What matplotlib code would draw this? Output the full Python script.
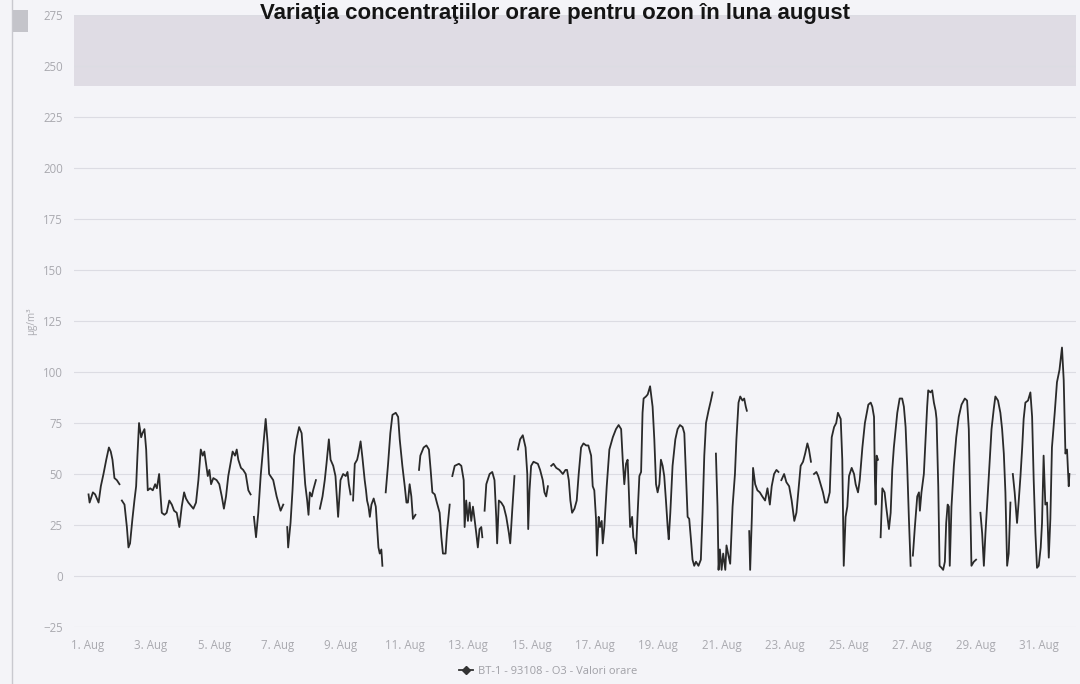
import numpy as np
import matplotlib.pyplot as plt
from matplotlib.lines import Line2D
from matplotlib.patches import Rectangle

title = "Variaţia concentraţiilor orare pentru ozon în luna august"
series_name = "BT-1 - 93108 - O3 - Valori orare"
unit = "µg/m³"
tick_days = list(range(1, 32, 2))
tick_labels = [f"{d}. Aug" for d in tick_days]
y_ticks = list(range(-25, 276, 25))
band_from, band_to = 240, 275

# hours since 1 Aug 00:00, None = missing values (line breaks)
hours = [1.0, 1.8, 4.3, 6.0, 8.6, 10.3, 12.3, 14.4, 16.4, 17.8, 19.1, 20.6, 22.4, 24.4,
         25.3,
         26.2, 28.2, 30.0, 31.2, 32.4, 34.2, 35.7, 37.0, 38.0, 39.2, 40.8, 41.8, 43.3, 44.6, 45.8,
         47.6, 49.6, 51.4, 52.7, 54.4, 55.4, 56.4, 58.4, 60.1, 62.1, 64.0, 65.7, 67.7, 69.7, 71.5,
         73.3, 74.7, 76.5, 80.3, 82.3, 84.1, 85.9, 87.4, 88.6, 89.9, 91.2, 92.4, 93.7, 95.4, 97.9,
         99.9, 101.8, 103.4, 105.0, 106.7, 108.6, 110.0, 111.8, 113.1, 114.3, 116.3, 118.0, 119.9,
         121.9, 123.6,
         125.0,
         126.1, 127.7, 129.4, 131.2, 132.7, 135.0, 136.5, 137.6, 140.7, 143.3, 146.3, 148.3,
         149.8,
         151.3, 152.0, 153.8, 155.3, 156.6, 158.3, 160.3, 162.2, 163.4, 164.9, 166.4, 167.4, 168.4,
         169.9, 170.9, 173.0,
         174.5,
         176.0, 178.0, 179.7, 181.0, 182.8, 184.1, 186.1, 187.8, 189.8, 191.6, 193.6, 195.6, 196.9,
         197.9, 199.2,
         200.1,
         201.1, 202.4, 204.2, 205.2, 206.8, 208.2, 209.9, 210.9, 211.7, 212.8, 213.8, 215.0, 216.7,
         218.3, 219.3, 220.3, 221.3, 222.5, 223.3,
         224.5,
         225.8, 227.6, 229.3, 230.9, 233.4, 235.2, 236.4, 238.4, 240.2, 241.5, 242.6, 243.9, 245.2,
         246.4, 248.3,
         249.6,
         251.0, 252.0, 254.5, 256.6, 258.5, 259.8, 261.1, 262.9, 264.5, 266.6, 267.9, 269.1, 271.1,
         272.1, 274.2,
         275.2,
         276.2, 278.0, 281.2, 283.0, 284.8, 285.5, 286.7, 288.0, 289.3, 290.5, 291.8, 293.0, 294.3,
         295.5, 296.8, 298.1, 298.9,
         299.8,
         300.6, 301.9, 304.4, 306.4, 308.1, 309.4, 310.1, 311.4, 313.2, 315.1, 317.0, 319.0, 320.0,
         321.5, 323.2,
         324.5,
         325.8, 327.5, 329.5, 331.6, 332.9, 333.6, 334.6, 335.8, 337.6, 340.9, 342.6, 344.6, 345.9,
         347.2, 348.5,
         349.8,
         351.0, 352.7, 354.8, 357.2, 359.8, 361.8, 363.0, 364.3, 365.5, 366.8, 368.6, 370.3, 371.8,
         373.6, 375.4, 377.4, 379.1, 381.2, 382.4, 383.6, 384.9, 385.6, 386.9, 387.9, 389.2, 390.0,
         391.2, 393.0, 395.0, 397.6, 400.0, 402.0, 403.9, 405.1, 406.3, 407.6, 408.8, 409.6, 410.7,
         412.2, 413.1, 414.4, 415.1, 416.4, 417.7, 419.0, 420.1, 420.9, 422.7, 424.0, 425.8, 427.7,
         429.0, 430.3, 431.5, 432.8, 434.0, 435.3, 436.5, 437.8, 439.1, 439.9, 441.1, 442.8, 444.9,
         446.6, 448.4, 450.4, 451.7, 452.9, 454.2, 455.4, 456.7, 457.9, 459.2, 460.5, 462.4, 464.2,
         465.5, 466.8, 468.1, 470.0, 471.8, 473.1,
         474.3,
         475.6, 476.8, 477.6, 478.6, 479.9, 481.1, 482.7, 483.6, 485.1, 486.4, 488.2, 490.0, 491.1,
         492.7, 494.0, 495.7, 497.0, 498.2, 499.0,
         499.9,
         500.8, 501.5, 502.8, 503.7, 505.3, 507.0, 508.8, 510.7, 512.8, 514.6, 516.4, 517.8, 519.6,
         521.4, 522.9,
         524.0,
         525.1, 527.2, 528.9, 531.0, 532.9, 534.9, 536.5, 538.0, 539.7, 541.5, 543.1, 544.8, 546.0,
         547.5,
         548.6,
         549.8, 551.6, 553.0, 554.8, 556.6, 558.2, 559.8, 561.7, 563.2, 565.0, 566.6, 567.9, 570.0,
         571.2, 572.3, 573.7, 575.0, 576.3, 578.3, 580.1, 581.3, 583.1, 584.4, 586.4, 588.3, 590.9,
         592.7, 593.9, 595.2, 595.9, 596.4, 597.2, 598.2,
         599.2,
         600.2, 601.5, 603.2, 604.4, 606.5, 607.8, 609.0, 610.2, 612.8, 614.6, 616.5, 617.8, 619.1,
         620.3, 621.6, 622.9,
         623.8,
         624.6, 626.1, 627.9, 629.2, 629.9, 631.1, 632.9, 634.2, 635.4, 636.2, 637.9, 639.2, 640.5,
         641.8, 642.5, 643.8, 644.8, 646.3, 647.5, 648.8, 649.8, 650.9, 651.8, 652.5, 653.8, 655.6,
         657.4, 659.3, 661.4, 663.9, 665.6, 666.9, 667.6, 668.9, 670.7, 672.4,
         674.0,
         675.7, 677.0, 678.3, 679.5, 680.7, 682.5, 684.1, 685.8, 687.0, 689.0, 690.8, 692.1, 693.4,
         694.6, 695.9, 697.1, 698.4,
         699.3,
         700.2, 701.6, 703.4, 704.7, 706.0, 707.3, 708.4, 709.7, 711.7, 713.5, 714.8, 716.0, 717.3,
         718.5, 719.8, 721.3, 722.3, 723.5, 724.8, 726.1, 727.4, 728.6, 729.8, 731.9, 733.6, 735.5,
         737.4, 738.7, 740.0, 741.2, 742.5, 743.0]

o3 = [40, 36, 41, 40, 36, 44, 50, 57, 63, 61, 57, 48, 47, 45,
      None,
      37, 35, 24, 14, 16, 28, 37, 44, 59, 75, 68, 70, 72, 62, 42,
      43, 42, 45, 43, 50, 40, 31, 30, 31, 37, 35, 32, 31, 24, 34,
      41, 38, 36, 33, 36, 47, 62, 59, 61, 55, 49, 52, 45, 48, 47,
      45, 39, 33, 39, 49, 56, 61, 59, 62, 57, 53, 52, 50,
      42, 40,
      None,
      29, 19, 31, 49, 60, 77, 65, 50, 47, 39, 32, 35,
      None,
      24, 14, 26, 42, 59, 67, 73, 70, 59, 45, 37, 30, 41,
      39, 42, 47,
      None,
      33, 39, 47, 55, 67, 57, 54, 49, 29, 47, 50, 49, 51,
      45, 40,
      None,
      37, 55, 57, 60, 66, 58, 47, 42, 37, 34, 29, 35, 38,
      34, 24, 14, 11, 13, 5,
      None,
      41, 55, 70, 79, 80, 78, 67, 54, 44, 36, 36, 45, 39,
      28, 30,
      None,
      52, 59, 63, 64, 62, 52, 41, 40, 36, 31, 19, 11, 11,
      21, 35,
      None,
      49, 54, 55, 54, 47, 24, 37, 27, 36, 27, 34, 28, 21,
      14, 23, 24, 19,
      None,
      32, 45, 50, 51, 47, 29, 16, 37, 36, 34, 29, 21, 16,
      32, 49,
      None,
      62, 67, 69, 63, 50, 23, 42, 54, 56, 55, 52, 47, 41,
      39, 44,
      None,
      54, 55, 53, 52, 50, 52, 52, 47, 37, 31, 33, 37, 50,
      63, 65, 64, 64, 59, 44, 42, 28, 10, 29, 24, 27, 16,
      24, 44, 62, 68, 72, 74, 72, 57, 45, 55, 57, 44, 24,
      29, 19, 16, 11, 31, 49, 51, 80, 87, 88, 89, 93, 83,
      67, 45, 41, 45, 57, 54, 49, 37, 24, 18, 31, 54, 67,
      72, 74, 73, 70, 50, 29, 28, 18, 8, 5, 7, 5, 8,
      31, 59, 75, 81, 86, 90,
      None,
      60, 34, 3, 13, 3, 11, 3, 15, 10, 6, 34, 50, 67,
      85, 88, 86, 87, 83, 81,
      None,
      22, 3, 29, 53, 45, 42, 41, 39, 37, 43, 35, 44, 50,
      52, 51,
      None,
      47, 50, 46, 44, 37, 27, 31, 42, 54, 56, 60, 65, 62,
      56,
      None,
      50, 51, 49, 45, 41, 36, 36, 41, 68, 73, 75, 80, 77,
      57, 5, 29, 34, 49, 53, 50, 45, 41, 47, 63, 75, 84,
      85, 83, 78, 47, 35, 59, 57,
      None,
      19, 43, 41, 34, 23, 31, 52, 63, 80, 87, 87, 83, 73,
      54, 28, 5,
      None,
      10, 24, 39, 41, 32, 41, 50, 67, 83, 91, 90, 91, 85,
      81, 77, 44, 5, 4, 3, 7, 26, 35, 34, 5, 34, 54,
      68, 78, 84, 87, 86, 72, 49, 5, 7, 8,
      None,
      31, 21, 5, 21, 34, 54, 72, 82, 88, 86, 80, 72, 60,
      41, 5, 11, 36,
      None,
      50, 41, 26, 37, 49, 63, 77, 85, 86, 90, 78, 47, 21,
      4, 5, 14, 26, 59, 35, 36, 9, 28, 63, 80, 95, 101,
      112, 96, 60, 62, 44, 50]

bg = '#f4f4f8'
grey_text = '#a9a9af'

plt.rcParams['font.family'] = ['Open Sans', 'DejaVu Sans']
fig = plt.figure(figsize=(10.8, 6.84), dpi=100, facecolor=bg)
ax = fig.add_axes([74 / 1080, 57 / 684, 1002 / 1080, 612 / 684])
ax.set_facecolor(bg)

ax.axhspan(band_from, band_to, color='#dfdce4', zorder=0, lw=0)
for y in y_ticks:
    ax.axhline(y, color='#dcdce3', lw=0.8, zorder=1)

ax.plot(hours, np.array(o3, dtype=float), color='#2a2a2a', lw=1.3, zorder=3)

ax.set_xlim(-10, 748)
ax.set_ylim(-25, 275)
ax.set_xticks([(d - 1) * 24 for d in tick_days])
ax.set_xticklabels(tick_labels)
ax.set_yticks(y_ticks)
ax.tick_params(axis='both', length=0, labelsize=8.3, labelcolor=grey_text)
ax.tick_params(axis='x', pad=9)
ax.tick_params(axis='y', pad=8)
for s in ax.spines.values():
    s.set_visible(False)

fig.text(32 / 1080, 1 - 321 / 684, unit, rotation=90, ha='center', va='center',
         fontsize=7, color=grey_text)

handle = Line2D([], [], color='#333333', lw=1.3, marker='D', markersize=4)
fig.legend([handle], [series_name], loc='center', bbox_to_anchor=(548 / 1080, 1 - 671 / 684),
           frameon=False, fontsize=8, labelcolor='#a0a0a6', handlelength=1.3,
           handletextpad=0.4)

fig.text(555 / 1080, 1 - 19 / 684, title, ha='center', va='baseline', fontsize=16,
         fontweight='bold', family=['Liberation Sans'], color='#151515', zorder=5)

# scan frame and export icon
fig.add_artist(Line2D([12 / 1080, 12 / 1080], [0, 1], transform=fig.transFigure,
                      color='#c9c9cf', lw=1))
fig.add_artist(Rectangle((12 / 1080, 1 - 32 / 684), 16 / 1080, 22 / 684,
                         transform=fig.transFigure, color='#c4c4ca', lw=0))

fig.savefig('out.png', dpi=100, facecolor=bg)
